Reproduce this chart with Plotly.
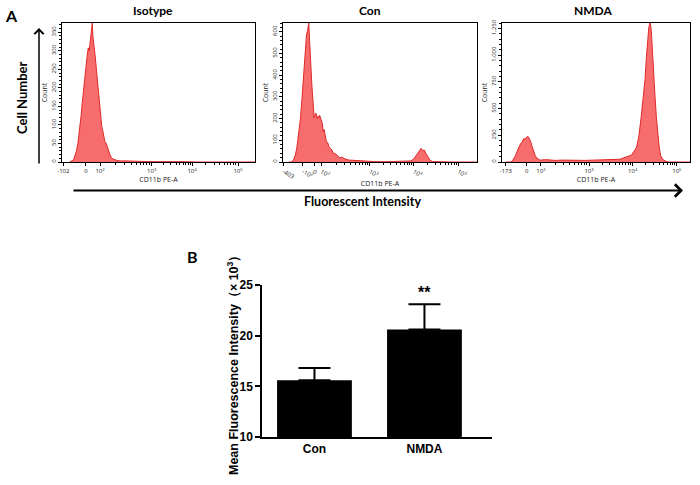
import math
import plotly.graph_objects as go

# flow cytometry histograms (x = display channel 0-1000, y = count)
iso_x = [40, 50, 60, 67, 75, 82, 88, 93, 99, 105, 110, 115, 120, 125, 130, 136, 141, 146, 150, 154, 157,
         160, 163, 167, 171, 175, 179, 183, 187, 191, 196, 201, 206, 211, 216, 222, 228, 234, 240, 247,
         255, 265, 280, 300, 330, 360, 400, 450, 500, 560, 620, 700, 800, 1000]
iso_y = [0, 2, 6, 17, 30, 50, 72, 96, 125, 160, 190, 221, 240, 260, 285, 308, 300, 330, 345, 360, 375,
         340, 330, 308, 290, 265, 250, 232, 200, 175, 150, 120, 96, 85, 70, 55, 52, 40, 32, 22,
         12, 8, 5, 3, 3, 2, 2, 1, 1, 0, 1, 0, 0, 0]

con_x = [30, 46, 55, 64, 72, 81, 90, 98, 104, 109, 113, 117, 121, 125, 129, 133, 137, 141, 145, 149,
         153, 157, 161, 165, 169, 173, 177, 181, 185, 189, 193, 197, 202, 207, 212, 218, 224, 230, 237,
         244, 252, 260, 270, 280, 292, 305, 320, 340, 360, 380, 400, 430, 470, 520, 570, 610, 640, 660,
         675, 690, 700, 712, 720, 728, 738, 748, 758, 770, 790, 820, 870, 920, 1000]
con_y = [0, 0, 12, 32, 70, 124, 200, 293, 380, 440, 478, 540, 585, 600, 620, 640, 560, 508, 420, 350,
         309, 260, 203, 215, 225, 217, 200, 210, 203, 215, 206, 194, 180, 140, 150, 120, 94, 90, 70,
         63, 55, 40, 38, 30, 20, 22, 14, 9, 8, 5, 3, 2, 2, 1, 2, 3, 5, 5,
         15, 35, 50, 63, 52, 55, 38, 20, 8, 2, 1, 1, 0, 0, 0]

nmda_x = [20, 45, 55, 65, 72, 78, 85, 92, 99, 105, 111, 117, 122, 128, 134, 140, 146, 152, 158, 164,
          170, 177, 184, 192, 200, 211, 225, 250, 280, 320, 360, 400, 440, 480, 520, 560, 590, 610,
          628, 645, 660, 672, 681, 690, 700, 708, 716, 728, 740, 750, 761, 768, 775, 781, 787, 790,
          794, 799, 806, 814, 821, 828, 836, 844, 855, 867, 883, 900, 950, 1000]
nmda_y = [0, 0, 10, 35, 60, 91, 120, 150, 173, 180, 195, 222, 210, 230, 238, 235, 215, 195, 156, 120,
          90, 59, 40, 25, 20, 18, 22, 20, 15, 18, 14, 16, 15, 18, 20, 22, 25, 24,
          26, 38, 45, 55, 59, 70, 90, 115, 140, 240, 417, 600, 775, 980, 1166, 1260, 1300, 1290,
          1230, 1100, 900, 613, 420, 254, 140, 59, 25, 10, 0, 0, 0, 0]

panels = ["Isotype", "Con", "NMDA"]
hist_x = [iso_x, con_x, nmda_x]
hist_y = [iso_y, con_y, nmda_y]
y_max = [375, 640, 1300]
y_ticks = [[0, 50, 100, 150, 200, 250, 300, 350],
           [0, 100, 200, 300, 400, 500, 600],
           [0, 250, 500, 750, 1000, 1250]]
y_tick_text = [["0", "50", "100", "150", "200", "250", "300", "350"],
               ["0", "100", "200", "300", "400", "500", "600"],
               ["0", "250", "500", "750", "1,000", "1,250"]]
x_tick_text = [["-102", "0", "10<sup>2</sup>", "10<sup>3</sup>", "10<sup>4</sup>", "10<sup>5</sup>"],
               ["-403", "-10<sup>2</sup>", "0", "10<sup>2</sup>", "10<sup>3</sup>", "10<sup>4</sup>", "10<sup>5</sup>"],
               ["-173", "0", "10<sup>2</sup>", "10<sup>3</sup>", "10<sup>4</sup>", "10<sup>5</sup>"]]
x_tick_pos = [[7, 124, 197, 465, 674, 912],
              [3, 103, 160, 199, 448, 675, 904],
              [20, 131, 207, 463, 695, 930]]

# bar chart
groups = ["Con", "NMDA"]
mfi = [15.6, 20.6]
mfi_err = [1.2, 2.5]

W, H = 700, 485


def px(x):
    return x / W


def py(y):
    return 1 - y / H


hist_dom = [(62, 255), (283, 477), (502, 690)]

fig = go.Figure()
layout = {}
for i in range(3):
    n = "" if i == 0 else str(i + 1)
    fig.add_trace(go.Scatter(x=hist_x[i], y=hist_y[i], mode="lines", fill="tozeroy",
                             line=dict(color="#e02a2a", width=1), fillcolor="#f76c6c",
                             xaxis="x" + n, yaxis="y" + n, showlegend=False, hoverinfo="skip"))
    # minor ticks of the log decades
    pos = x_tick_pos[i]
    dec = pos[-4:]
    minor = []
    for a, b in zip(dec[:-1], dec[1:]):
        for m in range(2, 10):
            minor.append(a + math.log10(m) * (b - a))
    x0, x1 = hist_dom[i]
    layout["xaxis" + n] = dict(
        domain=[px(x0), px(x1)], range=[0, 1000], anchor="y" + n, automargin=False,
        showline=True, linecolor="black", linewidth=1, mirror=True,
        ticks="outside", ticklen=3, tickwidth=1, tickcolor="black",
        tickvals=pos, ticktext=x_tick_text[i], tickfont=dict(size=6, color="#222"),
        minor=dict(tickvals=minor, ticks="outside", ticklen=2, tickcolor="black"),
        showgrid=False, zeroline=False,
        title=dict(text="CD11b PE-A", font=dict(size=7, color="#222"), standoff=1))
    layout["yaxis" + n] = dict(
        domain=[py(162), py(23)], range=[0, y_max[i]], anchor="x" + n, automargin=False,
        showline=True, linecolor="black", linewidth=1, mirror=True,
        ticks="outside", ticklen=3, tickwidth=1, tickcolor="black",
        tickvals=y_ticks[i], ticktext=y_tick_text[i], tickangle=-90,
        tickfont=dict(size=6, color="#222"),
        minor=dict(dtick=y_ticks[i][1] / 5, ticks="outside", ticklen=2, tickcolor="black"),
        showgrid=False, zeroline=False,
        title=dict(text="Count", font=dict(size=7, color="#222"), standoff=1))

fig.add_trace(go.Bar(x=[0, 1], y=mfi, width=0.68, marker=dict(color="black", line=dict(width=0)),
                     error_y=dict(type="data", array=mfi_err, arrayminus=[0, 0], symmetric=False,
                                  color="black", thickness=2, width=16),
                     xaxis="x4", yaxis="y4", showlegend=False, hoverinfo="skip"))
layout["xaxis4"] = dict(domain=[px(262), px(492)], range=[-0.477, 1.614], anchor="y4", automargin=False,
                        showline=True, linecolor="black", linewidth=1.5, ticks="",
                        tickvals=[0, 1], ticktext=groups, showgrid=False, zeroline=False,
                        tickfont=dict(size=12, color="black", family="Liberation Sans", weight="bold"))
layout["yaxis4"] = dict(domain=[py(437), py(285)], range=[10, 25], anchor="x4", automargin=False,
                        showline=True, linecolor="black", linewidth=1.5, ticks="outside",
                        ticklen=5, tickwidth=1.5, tickcolor="black", tickvals=[10, 15, 20, 25],
                        showgrid=False, zeroline=False,
                        tickfont=dict(size=12, color="black", family="Liberation Sans", weight="bold"))

fig.update_layout(width=W, height=H, margin=dict(l=0, r=0, t=0, b=0, autoexpand=False),
                  plot_bgcolor="white", paper_bgcolor="white", **layout)

bold = dict(family="Lato", color="black", weight="bold")
annots = [
    dict(text="A", x=px(11), y=py(16), font=dict(size=16, **bold)),
    dict(text="B", x=px(192), y=py(256), font=dict(size=16, **bold)),
    dict(text="Isotype", x=px(153), y=py(10), font=dict(size=12, **bold)),
    dict(text="Con", x=px(370), y=py(10), font=dict(size=12, **bold)),
    dict(text="NMDA", x=px(593), y=py(10), font=dict(size=12, **bold)),
    dict(text="Cell Number", x=px(22), y=py(98), textangle=-90, font=dict(size=13, **bold)),
    dict(text="Fluorescent Intensity", x=px(362), y=py(201), font=dict(size=12.5, **bold)),
    dict(text="Mean Fluorescence Intensity（× 10<sup>3</sup>）", x=px(233), y=py(362), textangle=-90,
         font=dict(size=12.5, family="Liberation Sans", color="black", weight="bold")),
]
for a in annots:
    fig.add_annotation(xref="paper", yref="paper", showarrow=False, xanchor="center", yanchor="middle", **a)

fig.add_annotation(x=1, y=24.3, xref="x4", yref="y4", text="**", showarrow=False,
                   font=dict(size=16, family="Liberation Sans", color="black", weight="bold"))

# arrows of panel A (tail offsets in pixels)
fig.add_annotation(xref="paper", yref="paper", axref="pixel", ayref="pixel",
                   x=px(39), y=py(28), ax=0, ay=137, text="", showarrow=True,
                   arrowhead=4, arrowsize=1.2, arrowwidth=1.5, arrowcolor="black")
fig.add_annotation(xref="paper", yref="paper", axref="pixel", ayref="pixel",
                   x=px(683), y=py(190.5), ax=-611, ay=0, text="", showarrow=True,
                   arrowhead=4, arrowsize=1.2, arrowwidth=2, arrowcolor="black")

# the page body has a default 8px margin; drop it so the figure fills the window
fig.write_html("out.html", config={"displayModeBar": False},
               post_script="document.body.style.margin='0';")
